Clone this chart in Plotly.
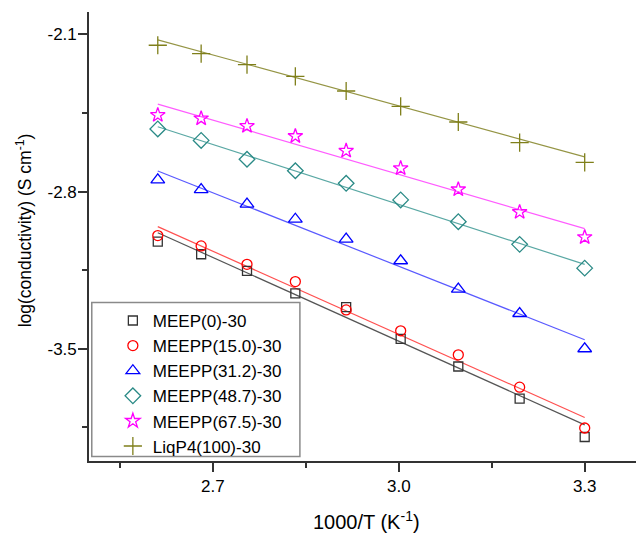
import plotly.graph_objects as go

# 1000/T values (K^-1)
x_vals = [2.611, 2.681, 2.755, 2.833, 2.915, 3.003, 3.096, 3.195, 3.300]

names = ["MEEP(0)-30", "MEEPP(15.0)-30", "MEEPP(31.2)-30",
         "MEEPP(48.7)-30", "MEEPP(67.5)-30", "LiqP4(100)-30"]

meep0 = [-3.023, -3.079, -3.153, -3.253, -3.315, -3.456, -3.579, -3.722, -3.893]
meepp15 = [-2.996, -3.042, -3.124, -3.201, -3.327, -3.420, -3.527, -3.671, -3.853]
meepp31 = [-2.748, -2.791, -2.856, -2.923, -3.012, -3.108, -3.234, -3.343, -3.500]
meepp48 = [-2.521, -2.572, -2.656, -2.707, -2.763, -2.837, -2.934, -3.035, -3.141]
meepp67 = [-2.459, -2.474, -2.508, -2.553, -2.618, -2.696, -2.790, -2.891, -3.003]
liqp4 = [-2.148, -2.185, -2.234, -2.287, -2.352, -2.420, -2.490, -2.582, -2.670]

# linear-fit line endpoints (at first and last x)
fit_x = [2.611, 3.300]
fit_meep0 = [-2.983, -3.839]
fit_meepp15 = [-2.956, -3.806]
fit_meepp31 = [-2.708, -3.460]
fit_meepp48 = [-2.511, -3.124]
fit_meepp67 = [-2.410, -2.965]
fit_liqp4 = [-2.124, -2.645]

# tick labels
x_tickvals = [2.7, 3.0, 3.3]
x_ticktext = ["2.7", "3.0", "3.3"]
y_tickvals = [-2.1, -2.8, -3.5]
y_ticktext = ["-2.1", "-2.8", "-3.5"]

series = [meep0, meepp15, meepp31, meepp48, meepp67, liqp4]
fits = [fit_meep0, fit_meepp15, fit_meepp31, fit_meepp48, fit_meepp67, fit_liqp4]
symbols = ["square-open", "circle-open", "triangle-up-open",
           "diamond-open", "star-open", "cross-thin-open"]
sizes = [9, 10, 12, 12, 11, 13]
marker_colors = ["#333333", "#ff0000", "#0000ff", "#2a8a86", "#ff00ff", "#7f7f1a"]
line_colors = ["#555555", "#ff5050", "#5a5aff", "#5aa8a4", "#ff5cff", "#959545"]

fig = go.Figure()
for ys, fy, lc in zip(series, fits, line_colors):
    fig.add_trace(go.Scatter(x=fit_x, y=fy, mode="lines",
                             line=dict(color=lc, width=1.2),
                             showlegend=False, hoverinfo="skip"))
for nm, ys, sym, sz, mc in zip(names, series, symbols, sizes, marker_colors):
    fig.add_trace(go.Scatter(x=x_vals, y=ys, mode="markers", name=nm,
                             marker=dict(symbol=sym, size=sz,
                                         color=mc, line=dict(color=mc, width=1.3))))

FONT = "Liberation Sans, Arial, sans-serif"
# page body has an 8px margin, so the figure is sized/offset to compensate
fig.update_layout(
    width=636, height=526,
    margin=dict(l=81, r=0, t=4, b=73, autoexpand=False),
    paper_bgcolor="white", plot_bgcolor="white",
    font=dict(family=FONT, size=17, color="black"),
    showlegend=True,
    legend=dict(x=0.043, y=0.352, xanchor="left", yanchor="top",
                bgcolor="rgba(0,0,0,0)", borderwidth=0,
                font=dict(family=FONT, size=17, color="black"),
                tracegroupgap=0),
    shapes=[dict(type="rect", xref="paper", yref="paper",
                 x0=0.005, x1=0.380, y0=0.010, y1=0.353,
                 line=dict(color="#8a8a8a", width=1.5), fillcolor="rgba(0,0,0,0)")],
    annotations=[
        dict(text="1000/T (K<sup>-1</sup>)", xref="paper", yref="paper",
             x=0.5, y=-0.133, xanchor="center", yanchor="middle",
             showarrow=False, font=dict(family=FONT, size=20, color="black")),
        dict(text="log(conductivity) (S cm<sup>-1</sup>)", xref="paper", yref="paper",
             x=-0.118, y=0.5126, xanchor="center", yanchor="middle", textangle=-90,
             showarrow=False, font=dict(family=FONT, size=17.5, color="black")),
    ],
)
fig.update_xaxes(
    range=[2.5, 3.3957], showgrid=False, zeroline=False, automargin=False,
    showline=True, linecolor="#333333", linewidth=1.6,
    ticks="outside", ticklen=9, tickwidth=1.5, tickcolor="#333333",
    tickvals=x_tickvals, ticktext=x_ticktext,
    minor=dict(ticks="outside", ticklen=5, tickwidth=1.5, tickcolor="#333333",
               tick0=2.55, dtick=0.15, showgrid=False),
    tickfont=dict(size=17),
)
fig.update_yaxes(
    range=[-4.0, -2.0], showgrid=False, zeroline=False, automargin=False,
    showline=True, linecolor="#333333", linewidth=1.6,
    ticks="outside", ticklen=9, tickwidth=1.5, tickcolor="#333333",
    tickvals=y_tickvals, ticktext=y_ticktext, ticklabelstandoff=-2,
    minor=dict(ticks="outside", ticklen=5, tickwidth=1.5, tickcolor="#333333",
               tick0=-2.1, dtick=0.35, showgrid=False),
    tickfont=dict(size=17),
)

fig.write_html("out.html")
